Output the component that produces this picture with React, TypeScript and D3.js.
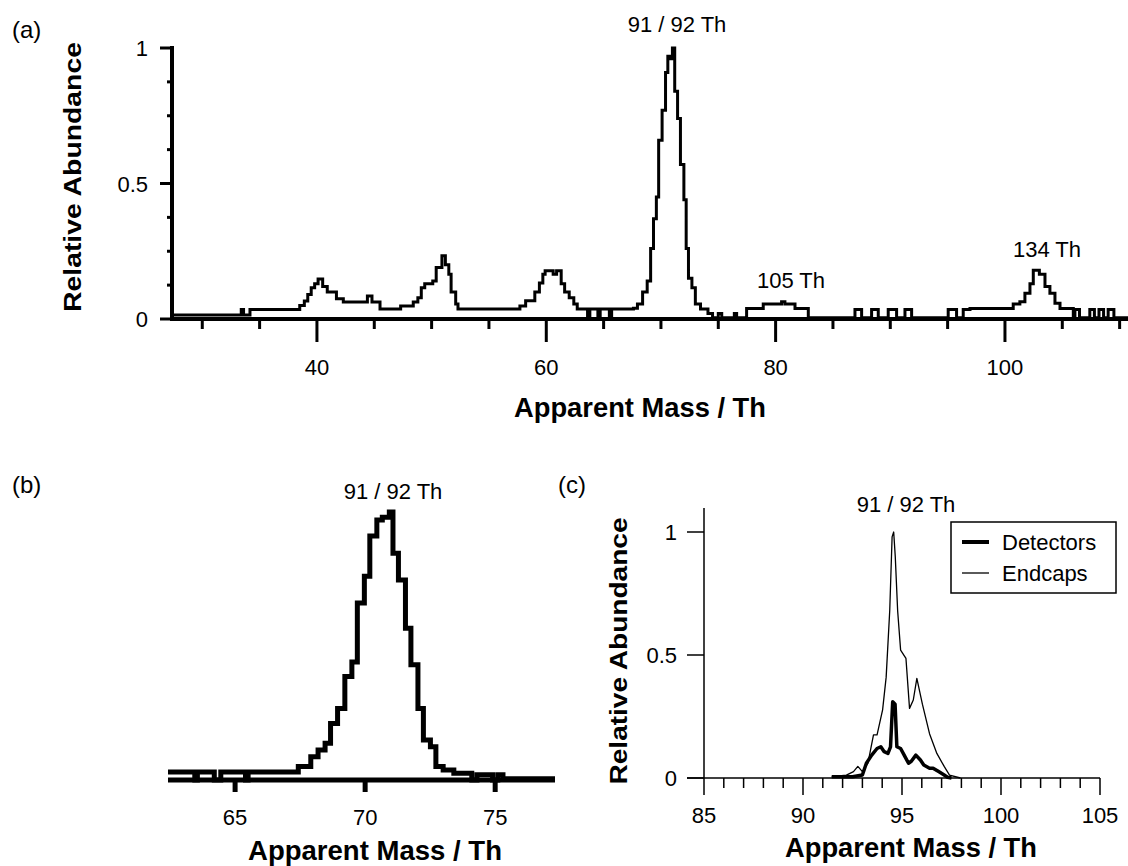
import React from 'react';
import * as d3 from 'd3';

// ---------- Panel (a): full spectrum (step trace) ----------
const aMass = [27.36, 33.4, 33.6, 34.16, 38.5, 38.9, 39.2, 39.5, 39.8, 40.1, 40.5, 40.9, 41.7, 42.3, 44.4, 44.8, 45.5, 47.3, 48.4, 48.8, 49.1, 49.4, 50.1, 50.4, 50.9, 51.2, 51.5, 51.7, 52.1, 52.3, 57.7, 58.2, 59.0, 59.4, 59.7, 59.9, 60.6, 60.9, 61.3, 61.6, 62.0, 62.4, 62.7, 63.6, 63.8, 64.5, 64.7, 65.5, 65.7, 67.6, 67.95, 68.4, 68.8, 69.1, 69.35, 69.6, 69.8, 70.1, 70.4, 70.6, 70.8, 71.0, 71.2, 71.45, 71.7, 72.0, 72.2, 72.4, 72.7, 73.0, 73.45, 74.1, 74.5, 75.0, 75.3, 76.4, 76.6, 77.47, 78.92, 80.52, 80.81, 81.69, 82.85, 86.92, 87.5, 88.37, 88.95, 89.82, 90.55, 91.28, 91.86, 95.05, 95.78, 96.36, 96.95, 100.72, 101.3, 101.74, 102.18, 102.47, 103.0, 103.49, 103.92, 104.36, 104.8, 105.96, 106.1, 106.5, 107.4, 107.8, 108.2, 108.6, 109.0, 109.5, 110.73];
const aAbund = [0.015, 0.035, 0.015, 0.035, 0.05, 0.066, 0.09, 0.115, 0.13, 0.148, 0.12, 0.10, 0.075, 0.063, 0.085, 0.063, 0.037, 0.048, 0.063, 0.078, 0.115, 0.13, 0.14, 0.19, 0.233, 0.20, 0.165, 0.10, 0.055, 0.037, 0.048, 0.067, 0.10, 0.133, 0.165, 0.178, 0.165, 0.178, 0.13, 0.10, 0.078, 0.055, 0.037, 0.012, 0.037, 0.012, 0.037, 0.012, 0.037, 0.04, 0.055, 0.10, 0.14, 0.26, 0.37, 0.45, 0.66, 0.77, 0.91, 0.97, 0.96, 1.0, 0.84, 0.74, 0.57, 0.44, 0.26, 0.15, 0.115, 0.055, 0.037, 0.02, 0.005, 0.02, 0.005, 0.02, 0.005, 0.039, 0.055, 0.064, 0.055, 0.039, 0.005, 0.035, 0.005, 0.035, 0.005, 0.035, 0.005, 0.035, 0.005, 0.035, 0.005, 0.035, 0.039, 0.055, 0.064, 0.095, 0.13, 0.18, 0.165, 0.12, 0.095, 0.058, 0.039, 0.005, 0.035, 0.005, 0.035, 0.005, 0.035, 0.005, 0.035, 0.005, 0.005];
const aXMajor = [40, 60, 80, 100];
const aXMinor = [30, 35, 45, 50, 55, 65, 70, 75, 85, 90, 95, 105, 110];
const aYMajor = [0, 0.5, 1];
const aYLabels = ['0', '0.5', '1'];
const aYMinor = [0.125, 0.25, 0.375, 0.625, 0.75, 0.875];
const aPeakLabels = ['91 / 92 Th', '105 Th', '134 Th'];

// ---------- Panel (b): zoom on 91/92 Th (step trace) ----------
const bMass = [62.42, 63.45, 63.55, 64.2, 64.45, 65.4, 65.5, 67.43, 67.91, 68.19, 68.46, 68.67, 68.94, 69.22, 69.49, 69.7, 69.97, 70.18, 70.45, 70.66, 70.93, 71.07, 71.28, 71.55, 71.76, 72.03, 72.24, 72.51, 72.72, 73.0, 73.41, 74.1, 74.3, 74.9, 75.1, 75.3, 77.3];
const bAbund = [0.03, 0.0, 0.03, 0.0, 0.03, 0.0, 0.03, 0.05, 0.087, 0.112, 0.137, 0.211, 0.267, 0.386, 0.44, 0.66, 0.76, 0.91, 0.97, 0.98, 1.0, 0.846, 0.746, 0.566, 0.43, 0.267, 0.149, 0.124, 0.05, 0.037, 0.025, 0.0, 0.02, 0.0, 0.02, 0.005, 0.005];
const bXTicks = [65, 70, 75];

// ---------- Panel (c): detectors vs endcaps ----------
const cEndMass = [91.45, 92.19, 92.55, 92.77, 93.0, 93.28, 93.56, 93.74, 94.02, 94.2, 94.38, 94.5, 94.58, 94.66, 94.78, 94.93, 95.2, 95.38, 95.57, 95.75, 96.03, 96.39, 96.76, 97.13, 97.4, 97.95];
const cEndAbund = [0.005, 0.012, 0.026, 0.047, 0.026, 0.06, 0.175, 0.175, 0.277, 0.41, 0.68, 0.98, 1.0, 0.9, 0.68, 0.52, 0.486, 0.283, 0.317, 0.405, 0.30, 0.18, 0.10, 0.047, 0.012, 0.0];
const cDetMass = [91.45, 92.5, 93.0, 93.2, 93.47, 93.74, 93.93, 94.1, 94.29, 94.42, 94.53, 94.65, 94.74, 94.93, 95.11, 95.33, 95.47, 95.7, 95.93, 96.1, 96.39, 96.57, 96.85, 97.13, 97.3, 97.5];
const cDetAbund = [0.005, 0.005, 0.012, 0.06, 0.093, 0.12, 0.127, 0.107, 0.1, 0.127, 0.31, 0.30, 0.127, 0.12, 0.093, 0.06, 0.068, 0.093, 0.073, 0.053, 0.04, 0.04, 0.026, 0.012, 0.003, 0.0];
const cXMajor = [85, 90, 95, 100, 105];
const cXMinor = [86, 87, 88, 89, 91, 92, 93, 94, 96, 97, 98, 99, 101, 102, 103, 104];
const cYTicks = [0, 0.5, 1];
const cYLabels = ['0', '0.5', '1'];
const cSeries = ['Detectors', 'Endcaps'];

const FF = "'Liberation Sans', Arial, Helvetica, sans-serif";
const TITLE_X = 'Apparent Mass / Th';
const TITLE_Y = 'Relative Abundance';

export default function App() {
  const ax = d3.scaleLinear().domain([27.36, 110.73]).range([172, 1128]);
  const ay = d3.scaleLinear().domain([0, 1]).range([319, 48]);
  const bx = d3.scaleLinear().domain([62.42, 77.3]).range([168, 555]);
  const by = d3.scaleLinear().domain([0, 1]).range([780, 512]);
  const cx = d3.scaleLinear().domain([85, 105]).range([704, 1100]);
  const cy = d3.scaleLinear().domain([0, 1]).range([778, 532]);

  const aLine = d3.line<number>().x((d, i) => ax(aMass[i])).y((d) => ay(d)).curve(d3.curveStepAfter);
  const bLine = d3.line<number>().x((d, i) => bx(bMass[i])).y((d) => by(d)).curve(d3.curveStepAfter);
  const endLine = d3.line<number>().x((d, i) => cx(cEndMass[i])).y((d) => cy(d));
  const detLine = d3.line<number>().x((d, i) => cx(cDetMass[i])).y((d) => cy(d));

  const peakPos = [[677, 32], [791, 288], [1047, 257]];

  return (
    <svg width={1128} height={866} style={{ position: 'absolute', left: 0, top: 0, background: '#fff' }} fontFamily={FF}>
      <rect x={0} y={0} width={1128} height={866} fill="#fff" />
      {/* ===== Panel (a) ===== */}
      <text x={12} y={38} fontSize={24}>(a)</text>
      <path d={aLine(aAbund) || ''} fill="none" stroke="#000" strokeWidth={3} />
      <line x1={172} x2={172} y1={ay(1) - 2} y2={ay(0) + 2} stroke="#000" strokeWidth={4} />
      <line x1={170} x2={1128} y1={ay(0)} y2={ay(0)} stroke="#000" strokeWidth={4} />
      {aXMajor.map((t) => (
        <g key={'axM' + t}>
          <line x1={ax(t)} x2={ax(t)} y1={ay(0)} y2={ay(0) + 23} stroke="#000" strokeWidth={3} />
          <text x={ax(t)} y={375} fontSize={22} textAnchor="middle">{t}</text>
        </g>
      ))}
      {aXMinor.map((t) => (
        <line key={'axm' + t} x1={ax(t)} x2={ax(t)} y1={ay(0)} y2={ay(0) + 10} stroke="#000" strokeWidth={3} />
      ))}
      {aYMajor.map((t, i) => (
        <g key={'ayM' + t}>
          <line x1={160} x2={172} y1={ay(t)} y2={ay(t)} stroke="#000" strokeWidth={3} />
          <text x={148} y={ay(t) + 8} fontSize={22} textAnchor="end">{aYLabels[i]}</text>
        </g>
      ))}
      {aYMinor.map((t) => (
        <line key={'aym' + t} x1={167} x2={172} y1={ay(t)} y2={ay(t)} stroke="#000" strokeWidth={3} />
      ))}
      {aPeakLabels.map((p, i) => (
        <text key={p} x={peakPos[i][0]} y={peakPos[i][1]} fontSize={22} textAnchor="middle">{p}</text>
      ))}
      <text x={640} y={417} fontSize={27} fontWeight="bold" textAnchor="middle" textLength={252} lengthAdjust="spacingAndGlyphs">{TITLE_X}</text>
      <text transform="translate(81,177) rotate(-90)" fontSize={24} fontWeight="bold" textAnchor="middle" textLength={270} lengthAdjust="spacingAndGlyphs">{TITLE_Y}</text>

      {/* ===== Panel (b) ===== */}
      <text x={12} y={493} fontSize={24}>(b)</text>
      <path d={bLine(bAbund) || ''} fill="none" stroke="#000" strokeWidth={5} />
      <line x1={168} x2={555} y1={by(0)} y2={by(0)} stroke="#000" strokeWidth={5} />
      {bXTicks.map((t) => (
        <g key={'bx' + t}>
          <line x1={bx(t)} x2={bx(t)} y1={by(0)} y2={by(0) + 12} stroke="#000" strokeWidth={5} />
          <text x={bx(t)} y={825} fontSize={22} textAnchor="middle">{t}</text>
        </g>
      ))}
      <text x={393} y={499} fontSize={22} textAnchor="middle">91 / 92 Th</text>
      <text x={375} y={860} fontSize={27} fontWeight="bold" textAnchor="middle" textLength={254} lengthAdjust="spacingAndGlyphs">{TITLE_X}</text>

      {/* ===== Panel (c) ===== */}
      <text x={558} y={493} fontSize={24}>(c)</text>
      <line x1={cx(85)} x2={cx(85)} y1={508} y2={cy(0)} stroke="#000" strokeWidth={1.5} />
      <line x1={687} x2={cx(105)} y1={cy(0)} y2={cy(0)} stroke="#000" strokeWidth={1.5} />
      {cXMajor.map((t) => (
        <g key={'cxM' + t}>
          <line x1={cx(t)} x2={cx(t)} y1={cy(0)} y2={cy(0) + 17} stroke="#000" strokeWidth={1.5} />
          <text x={cx(t)} y={823} fontSize={22} textAnchor="middle">{t}</text>
        </g>
      ))}
      {cXMinor.map((t) => (
        <line key={'cxm' + t} x1={cx(t)} x2={cx(t)} y1={cy(0)} y2={cy(0) + 10} stroke="#000" strokeWidth={1.5} />
      ))}
      {cYTicks.map((t, i) => (
        <g key={'cy' + t}>
          <line x1={687} x2={704} y1={cy(t)} y2={cy(t)} stroke="#000" strokeWidth={1.5} />
          <text x={677} y={cy(t) + 8} fontSize={22} textAnchor="end">{cYLabels[i]}</text>
        </g>
      ))}
      <path d={endLine(cEndAbund) || ''} fill="none" stroke="#000" strokeWidth={1.3} strokeLinejoin="round" />
      <path d={detLine(cDetAbund) || ''} fill="none" stroke="#000" strokeWidth={3.5} strokeLinejoin="round" />
      <text x={906} y={512} fontSize={22} textAnchor="middle">91 / 92 Th</text>
      <text x={911} y={857} fontSize={27} fontWeight="bold" textAnchor="middle" textLength={252} lengthAdjust="spacingAndGlyphs">{TITLE_X}</text>
      <text transform="translate(627,651) rotate(-90)" fontSize={24} fontWeight="bold" textAnchor="middle" textLength={267} lengthAdjust="spacingAndGlyphs">{TITLE_Y}</text>
      <rect x={951} y={522} width={165} height={71} fill="#fff" stroke="#000" strokeWidth={1.5} />
      {cSeries.map((s, i) => (
        <g key={s}>
          <line x1={962} x2={989} y1={542 + i * 31} y2={542 + i * 31} stroke="#000" strokeWidth={i === 0 ? 4 : 1.3} />
          <text x={1002} y={550 + i * 31} fontSize={22}>{s}</text>
        </g>
      ))}
    </svg>
  );
}
